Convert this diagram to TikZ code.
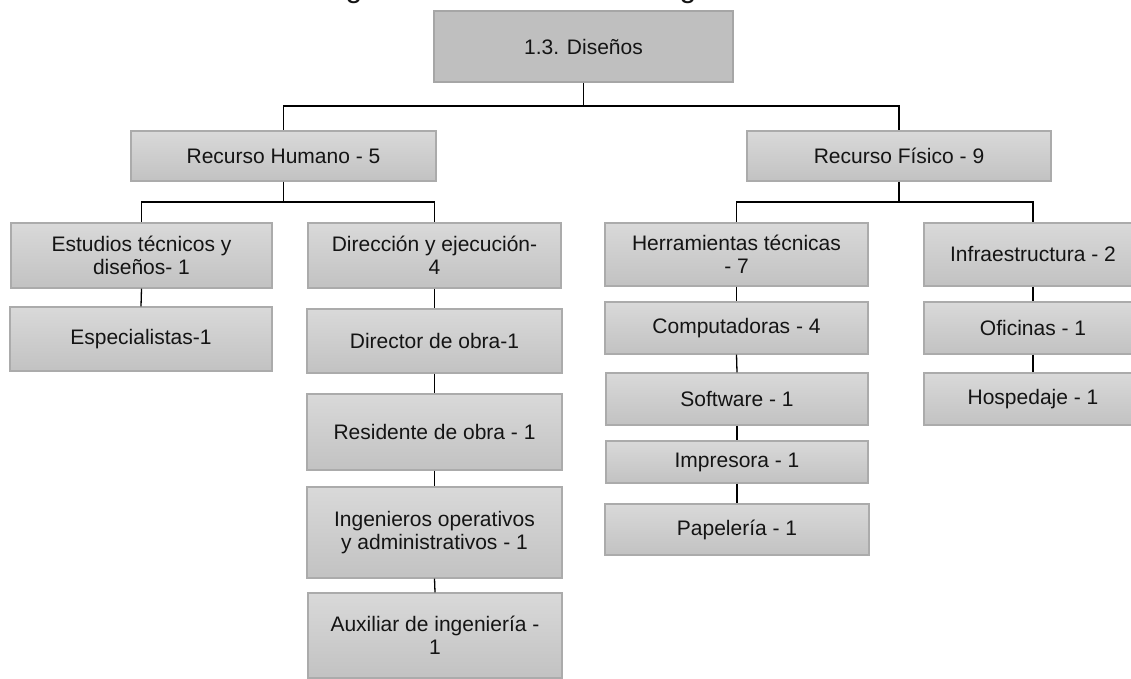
\documentclass[tikz,border=0pt]{standalone}
\usepackage{fontspec}
\setmainfont{Liberation Sans}
\definecolor{boxtop}{HTML}{D9D9D9}
\definecolor{boxbot}{HTML}{C2C2C2}
\definecolor{boxline}{HTML}{ABABAB}
\definecolor{rootfill}{HTML}{BFBFBF}
\definecolor{rootline}{HTML}{A6A6A6}
\definecolor{txt}{HTML}{141414}
\begin{document}
\begin{tikzpicture}[x=1pt,y=-1pt,
  box/.style={draw=boxline, line width=1.3pt, top color=boxtop, bottom color=boxbot,
    inner sep=0pt, align=center, text=txt, font=\fontsize{21}{23.5}\selectfont},
  rootbox/.style={draw=rootline, line width=2pt, fill=rootfill,
    inner sep=0pt, align=center, text=txt, font=\fontsize{21}{23.5}\selectfont},
  wire/.style={draw=black, line width=1.3pt},
  dim/.style n args={2}{minimum width=#1pt, minimum height=#2pt}]
\path[use as bounding box] (0,0) rectangle (1131,679);
\clip (0,0) rectangle (1131,679);

% heading above the chart, running off the top edge
\node[anchor=base, inner sep=0pt, text=txt, font=\fontsize{30}{30}\selectfont] (t1) at (354,-2.5) {g};
\node[anchor=base, inner sep=0pt, text=txt, font=\fontsize{30}{30}\selectfont] (t2) at (688,-2.5) {g};

% root
\node[rootbox, dim={299}{71}] (root) at (583.5,46.5) {1.3. Diseños};

% second level
\node[box, dim={305}{50}] (rh) at (283.5,156) {Recurso Humano - 5};
\node[box, dim={304}{50}] (rf) at (899,156) {Recurso Físico - 9};

% human resources branch
\node[box, dim={261}{65}] (est) at (141.5,255.5) {Estudios técnicos y\\diseños- 1};
\node[box, dim={262}{64}] (esp) at (141,339) {Especialistas-1};
\node[box, dim={253}{65}] (dir) at (434.5,255.5) {Dirección y ejecución-\\4};
\node[box, dim={255}{64}] (dob) at (434.5,341) {Director de obra-1};
\node[box, dim={255}{76}] (res) at (434.5,432) {Residente de obra - 1};
\node[box, dim={255}{91}] (ing) at (434.5,532.5) {Ingenieros operativos\\y administrativos - 1};
\node[box, dim={254}{85}] (aux) at (435,635.5) {Auxiliar de ingeniería -\\1};

% physical resources branch
\node[box, dim={263}{63}] (her) at (736.5,254.5) {Herramientas técnicas\\- 7};
\node[box, dim={263}{52}] (com) at (736.5,328) {Computadoras - 4};
\node[box, dim={262}{52}] (sof) at (737,399) {Software - 1};
\node[box, dim={262}{42}] (imp) at (737,462) {Impresora - 1};
\node[box, dim={264}{51}] (pap) at (737,529.5) {Papelería - 1};
\node[box, dim={218}{63}] (inf) at (1033,254.5) {Infraestructura - 2};
\node[box, dim={218}{52}] (ofi) at (1033,328) {Oficinas - 1};
\node[box, dim={218}{52}] (hos) at (1033,399) {Hospedaje - 1};

% bus junctions
\coordinate (bus0) at (583.5,106);
\coordinate (bus1) at (283.5,202);
\coordinate (bus2) at (899,202);

% connectors
\draw[wire] (root.south) -- (bus0) -| (rh.north);
\draw[wire] (bus0) -| (rf.north);
\draw[wire] (rh.south) -- (bus1) -| (est.north);
\draw[wire] (bus1) -| (dir.north);
\draw[wire] (rf.south) -- (bus2) -| (her.north);
\draw[wire] (bus2) -| (inf.north);

\draw[wire] (est.south) -- (esp.north);
\draw[wire] (dir.south) -- (dob.north);
\draw[wire] (dob.south) -- (res.north);
\draw[wire] (res.south) -- (ing.north);
\draw[wire] (ing.south) -- (aux.north);

\draw[wire] (her.south) -- (com.north);
\draw[wire] (com.south) -- (sof.north);
\draw[wire] (sof.south) -- (imp.north);
\draw[wire] (imp.south) -- (pap.north);

\draw[wire] (inf.south) -- (ofi.north);
\draw[wire] (ofi.south) -- (hos.north);
\end{tikzpicture}
\end{document}
